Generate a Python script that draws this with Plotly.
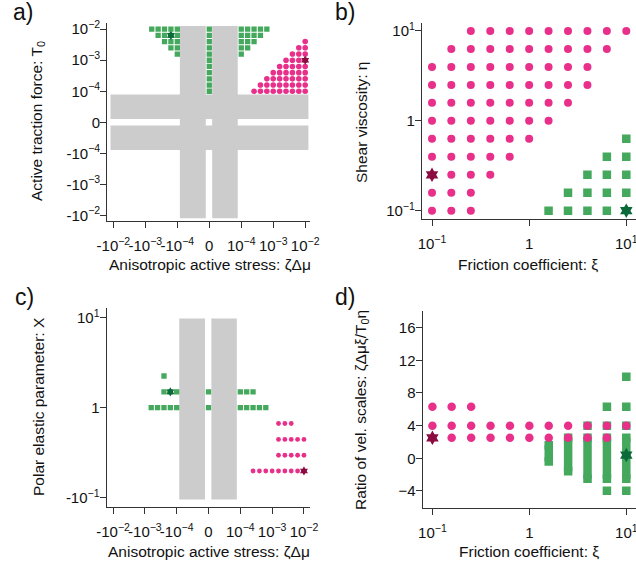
import plotly.graph_objects as go

W, H = 636, 571
GREEN = "#44a85d"
PINK = "#e8308a"
DARK_GREEN = "#0b6a39"
DARK_PINK = "#8c0c42"
GRAY = "#cccccc"
AXIS = "#333333"
FONT = "Liberation Sans, Arial, sans-serif"
M = "\u2212"

# symmetric-log positions for the stress axis: 0 -> 0, ±1e-4 -> ±1, ±1e-3 -> ±2, ±1e-2 -> ±3
sym_ticks = [-3, -2, -1, 0, 1, 2, 3]
sym_labels = [f"-10<sup>{M}2</sup>", f"-10<sup>{M}3</sup>", f"-10<sup>{M}4</sup>", "0",
              f"10<sup>{M}4</sup>", f"10<sup>{M}3</sup>", f"10<sup>{M}2</sup>"]
log_labels = [f"10<sup>{M}1</sup>", "1", "10<sup>1</sup>"]

# ---- panel a: stress vs traction (both symlog positions)
a_green_T0 = [3.0, 2.8, 2.6, 2.4, 2.2, 2.0, 1.8, 1.6, 1.4, 1.2, 1.0]
a_green_stress = [
    [-1.8, -1.6, -1.4, -1.2, -1.0, 0, 1.0, 1.2, 1.4, 1.6, 1.8],
    [-1.6, -1.4, -1.2, -1.0, 0, 1.0, 1.2, 1.4, 1.6],
    [-1.4, -1.2, -1.0, 0, 1.0, 1.2, 1.4],
    [-1.2, -1.0, 0, 1.0, 1.2],
    [-1.0, 0, 1.0],
    [0], [0], [0], [0], [0], [0],
]
a_pink_T0 = [2.6, 2.4, 2.2, 2.0, 1.8, 1.6, 1.4, 1.2, 1.0]
a_pink_stress = [
    [3.0],
    [2.8, 3.0],
    [2.6, 2.8, 3.0],
    [2.4, 2.6, 2.8, 3.0],
    [2.2, 2.4, 2.6, 2.8, 3.0],
    [2.0, 2.2, 2.4, 2.6, 2.8, 3.0],
    [1.8, 2.0, 2.2, 2.4, 2.6, 2.8, 3.0],
    [1.6, 1.8, 2.0, 2.2, 2.4, 2.6, 2.8, 3.0],
    [1.4, 1.6, 1.8, 2.0, 2.2, 2.4, 2.6, 2.8, 3.0],
]
a_star_green = ([-1.2], [2.8])
a_star_pink = ([3.0], [2.0])
a_gray_x_bands = [(-0.92, -0.11), (0.09, 0.89)]
a_gray_x_span = (-3.09, 3.1)
a_gray_y_bands = [(0.11, 0.9), (-0.89, -0.1)]

# ---- panel b: friction vs viscosity
b_pink_eta = [10.0, 6.31, 3.981, 2.512, 1.585, 1.0, 0.631, 0.398, 0.251, 0.158, 0.1]
b_pink_xi = [
    [0.251, 0.398, 0.631, 1.0, 1.585, 2.512, 3.981, 6.31, 10.0],
    [0.158, 0.251, 0.398, 0.631, 1.0, 1.585, 2.512, 3.981, 6.31],
    [0.1, 0.158, 0.251, 0.398, 0.631, 1.0, 1.585, 2.512, 3.981],
    [0.1, 0.158, 0.251, 0.398, 0.631, 1.0, 1.585, 2.512, 3.981],
    [0.1, 0.158, 0.251, 0.398, 0.631, 1.0, 1.585, 2.512],
    [0.1, 0.158, 0.251, 0.398, 0.631, 1.0, 1.585],
    [0.1, 0.158, 0.251, 0.398, 0.631, 1.0],
    [0.1, 0.158, 0.251, 0.398, 0.631],
    [0.158, 0.251, 0.398],
    [0.1, 0.158, 0.251],
    [0.1, 0.158, 0.251],
]
b_green_eta = [0.631, 0.398, 0.251, 0.158, 0.1]
b_green_xi = [
    [10.0],
    [6.31, 10.0],
    [3.981, 6.31, 10.0],
    [2.512, 3.981, 6.31, 10.0],
    [1.585, 2.512, 3.981, 6.31],
]
b_star_pink = ([0.1], [0.251])
b_star_green = ([10.0], [0.1])

# ---- panel c: stress vs polar elastic parameter
c_green_X = [2.25, 1.5, 1.0]
c_green_stress = [
    [-1.4],
    [-1.4, -1.2, -1.0, 0, 1.0, 1.2, 1.4],
    [-1.8, -1.6, -1.4, -1.2, -1.0, 0, 1.0, 1.2, 1.4, 1.6, 1.8],
]
c_pink_X = [0.667, 0.444, 0.296, 0.198]
c_pink_stress = [
    [2.2, 2.4, 2.6],
    [2.2, 2.4, 2.6, 2.8, 3.0],
    [2.2, 2.4, 2.6, 2.8, 3.0],
    [1.4, 1.6, 1.8, 2.0, 2.2, 2.4, 2.6, 2.8, 3.0],
]
c_star_green = ([-1.2], [1.5])
c_star_pink = ([3.0], [0.198])
c_gray_span = (0.0955, 9.77)

# ---- panel d: friction vs ratio of velocity scales
d_pink_ratio = [6.31, 3.981, 2.512]
d_pink_xi = [
    [0.1, 0.158, 0.251],
    [0.1, 0.158, 0.251, 0.398, 0.631, 1.0, 1.585, 2.512, 3.981, 6.31, 10.0],
    [0.158, 0.251, 0.398, 0.631, 1.0, 1.585, 2.512, 3.981, 6.31],
]
# green columns: per friction value, runs of ratio values (top, bottom) or single values
d_green_xi = [1.585, 2.512, 3.981, 6.31, 10.0]
d_green_runs = [
    [(1.585, -0.398)],
    [(2.512, -1.585)],
    [(3.981,), (2.512, -2.512)],
    [(6.31,), (3.981,), (2.512, -2.512), (-3.981,)],
    [(10.0,), (6.31,), (3.981,), (2.512, -2.512), (-3.981,)],
]
d_star_pink = ([0.1], [2.512])
d_star_green = ([10.0], [0.4])


def flat_rows(keys, rows, key_is_y=True):
    xs, ys = [], []
    for k, row in zip(keys, rows):
        for v in row:
            if key_is_y:
                xs.append(v)
                ys.append(k)
            else:
                xs.append(k)
                ys.append(v)
    return xs, ys


def rects(boxes):
    xs, ys = [], []
    for x0, x1, y0, y1 in boxes:
        xs += [x0, x1, x1, x0, x0, None]
        ys += [y0, y0, y1, y1, y0, None]
    return xs, ys


fig = go.Figure()


def add_gray(boxes, ax):
    xs, ys = rects(boxes)
    fig.add_trace(go.Scatter(x=xs, y=ys, mode="lines", fill="toself", fillcolor=GRAY,
                             line=dict(width=0, color=GRAY), hoverinfo="skip",
                             xaxis="x" + ax, yaxis="y" + ax))


def add_pts(xs, ys, ax, color, symbol, size):
    fig.add_trace(go.Scatter(x=xs, y=ys, mode="markers", xaxis="x" + ax, yaxis="y" + ax,
                             marker=dict(color=color, symbol=symbol, size=size, line=dict(width=0))))


# panel a
boxes = [(x0, x1, a_gray_x_span[0], a_gray_x_span[1]) for x0, x1 in a_gray_x_bands]
boxes += [(a_gray_x_span[0], a_gray_x_span[1], y0, y1) for y0, y1 in a_gray_y_bands]
add_gray(boxes, "")
add_pts(*flat_rows(a_green_T0, a_green_stress), "", GREEN, "square", 5.3)
add_pts(*flat_rows(a_pink_T0, a_pink_stress), "", PINK, "circle", 5.6)
add_pts(*a_star_green, "", DARK_GREEN, "hexagram", 7)
add_pts(*a_star_pink, "", DARK_PINK, "hexagram", 7)

# panel b
add_pts(*flat_rows(b_pink_eta, b_pink_xi), "2", PINK, "circle", 8)
add_pts(*flat_rows(b_green_eta, b_green_xi), "2", GREEN, "square", 8.5)
add_pts(*b_star_pink, "2", DARK_PINK, "hexagram", 11)
add_pts(*b_star_green, "2", DARK_GREEN, "hexagram", 11)

# panel c
add_gray([(x0, x1, c_gray_span[0], c_gray_span[1]) for x0, x1 in a_gray_x_bands], "3")
add_pts(*flat_rows(c_green_X, c_green_stress), "3", GREEN, "square", 5.3)
add_pts(*flat_rows(c_pink_X, c_pink_stress), "3", PINK, "circle", 4.8)
add_pts(*c_star_green, "3", DARK_GREEN, "hexagram", 7)
add_pts(*c_star_pink, "3", DARK_PINK, "hexagram", 7)

# panel d
gx, gy = [], []
for xi, runs in zip(d_green_xi, d_green_runs):
    for run in runs:
        gx += [xi] * len(run) + [None]
        gy += list(run) + [None]
fig.add_trace(go.Scatter(x=gx, y=gy, mode="lines+markers", xaxis="x4", yaxis="y4",
                         line=dict(color=GREEN, width=8.5),
                         marker=dict(color=GREEN, symbol="square", size=8.5, line=dict(width=0))))
add_pts(*flat_rows(d_pink_ratio, d_pink_xi), "4", PINK, "circle", 8.5)
add_pts(*d_star_pink, "4", DARK_PINK, "hexagram", 11)
add_pts(*d_star_green, "4", DARK_GREEN, "hexagram", 11)


def px_dom(a, b, vertical=False):
    if vertical:
        return [1 - b / H, 1 - a / H]
    return [a / W, b / W]


axis_common = dict(showgrid=False, zeroline=False, showline=True, linecolor=AXIS, linewidth=1.3,
                   ticks="outside", ticklen=6, tickwidth=1.2, tickcolor=AXIS, automargin=False,
                   ticklabeloverflow="allow",
                   tickfont=dict(family=FONT, size=15, color="#111"))
x_extra = dict(tickangle=0, ticklabelstandoff=5)
y_extra = dict(ticklabelstandoff=-3)
log_ticks = dict(type="log", tickvals=[0.1, 1, 10], ticktext=log_labels)

fig.update_layout(
    width=W, height=H, margin=dict(l=0, r=0, t=0, b=0),
    paper_bgcolor="white", plot_bgcolor="white", showlegend=False,
    xaxis=dict(axis_common, **x_extra, domain=px_dom(107.3, 310), range=[-3.19, 3.15], anchor="y",
               tickvals=sym_ticks, ticktext=sym_labels),
    yaxis=dict(axis_common, **y_extra, domain=px_dom(23.3, 220.7, True), range=[-3.17, 3.19], anchor="x",
               tickvals=sym_ticks, ticktext=sym_labels),
    xaxis2=dict(axis_common, **x_extra, **log_ticks, domain=px_dom(422, 636), range=[-1.103, 1.1], anchor="y2"),
    yaxis2=dict(axis_common, **y_extra, **log_ticks, domain=px_dom(22.7, 219.3, True), range=[-1.096, 1.092],
                anchor="x2"),
    xaxis3=dict(axis_common, **x_extra, domain=px_dom(106.7, 310), range=[-3.2, 3.19], anchor="y3",
                tickvals=sym_ticks, ticktext=sym_labels),
    yaxis3=dict(axis_common, **y_extra, type="log", domain=px_dom(308.3, 506.7, True), range=[-1.1, 1.104],
                anchor="x3", tickvals=[0.1, 1, 10], ticktext=["-" + log_labels[0], "1", log_labels[2]]),
    xaxis4=dict(axis_common, **x_extra, **log_ticks, domain=px_dom(422.7, 636), range=[-1.1, 1.1], anchor="y4"),
    yaxis4=dict(axis_common, **y_extra, domain=px_dom(311, 507.7, True), range=[-6.05, 18.04], anchor="x4",
                tickvals=[-4, 0, 4, 8, 12, 16]),
)


def note(text, x, y, size=15.5, angle=0, xanchor="center"):
    fig.add_annotation(text=text, x=x / W, y=1 - y / H, xref="paper", yref="paper",
                       showarrow=False, textangle=angle, xanchor=xanchor, yanchor="middle",
                       font=dict(family=FONT, size=size, color="#111"))


for lbl, x, y in [("a)", 11, 12), ("b)", 333, 12), ("c)", 13, 297), ("d)", 333, 297)]:
    note(lbl, x, y, size=23, xanchor="left")

note("Anisotropic active stress: ζΔμ", 210, 265)
note("Active traction force: T<sub>0</sub>", 37, 121, angle=-90)
note("Friction coefficient: ξ", 528, 265)
note("Shear viscosity: η", 361, 123, angle=-90)
note("Anisotropic active stress: ζΔμ", 209, 551)
note("Polar elastic parameter: X", 38, 407, angle=-90)
note("Friction coefficient: ξ", 529, 551)
note("Ratio of vel. scales: ζΔμξ/T<sub>0</sub>η", 361, 410, angle=-90)

# the page's default body margin would shift the figure; remove it
fig.write_html("out.html", config={"displayModeBar": False},
               post_script="document.body.style.margin='0px';")
